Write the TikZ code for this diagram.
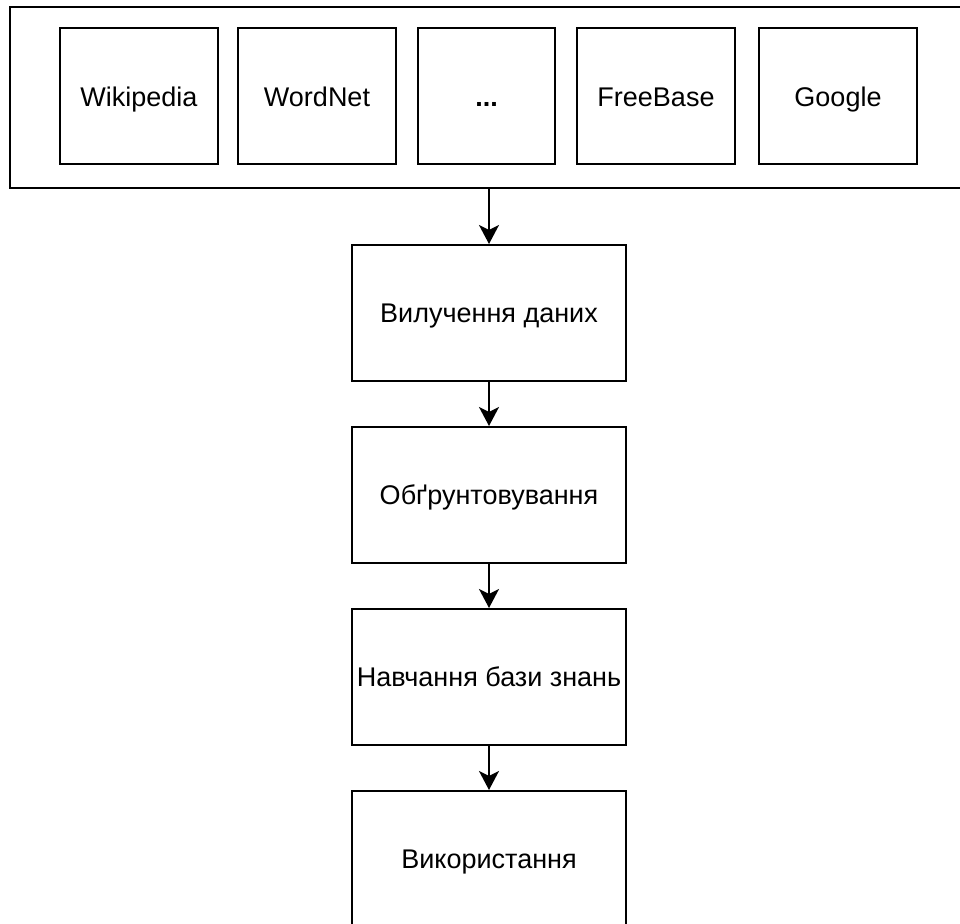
\documentclass[tikz,border=0pt]{standalone}
\usepackage{fontspec}
\setmainfont{Liberation Sans}
\usetikzlibrary{positioning,arrows.meta}

\tikzset{
  srcbox/.style={draw, line width=1pt, minimum width=79pt, minimum height=68pt, inner sep=0pt,
    text height=9.7pt, text depth=0pt},
  stagebox/.style={draw, line width=1pt, minimum width=137pt, minimum height=68pt, inner sep=0pt,
    text height=9.7pt, text depth=0pt},
  flow/.style={line width=1pt, -{Stealth[length=9.5pt,width=10pt,inset=2.5pt]}},
}

\begin{document}
\begin{tikzpicture}[x=0.5pt, y=0.5pt, font=\fontsize{13.5}{16}\selectfont, node distance=22pt]
  \useasboundingbox (0,0) rectangle (960,924);

  % Knowledge sources
  \node[draw, line width=1pt, minimum width=479pt, minimum height=90.5pt, inner sep=0pt] (sources) at (489,826.5) {};
  \node[srcbox] (wiki) at (139,827.5) {Wikipedia};
  \node[srcbox] (wordnet) at (317,827.5) {WordNet};
  \node[srcbox, minimum width=68.5pt] (more) at (486.5,827.5) {\textbf{...}};
  \node[srcbox] (freebase) at (656,827.5) {FreeBase};
  \node[srcbox] (google) at (838,827.5) {Google};

  % Processing stages
  \node[stagebox, below=27.5pt of sources] (extract) {Вилучення даних};
  \node[stagebox, below=of extract] (ground) {Обґрунтовування};
  \node[stagebox, below=of ground] (learn) {Навчання бази знань};
  \node[stagebox, below=of learn] (apply) {Використання};

  \draw[flow] (sources) -- (extract);
  \draw[flow] (extract) -- (ground);
  \draw[flow] (ground) -- (learn);
  \draw[flow] (learn) -- (apply);
\end{tikzpicture}
\end{document}
